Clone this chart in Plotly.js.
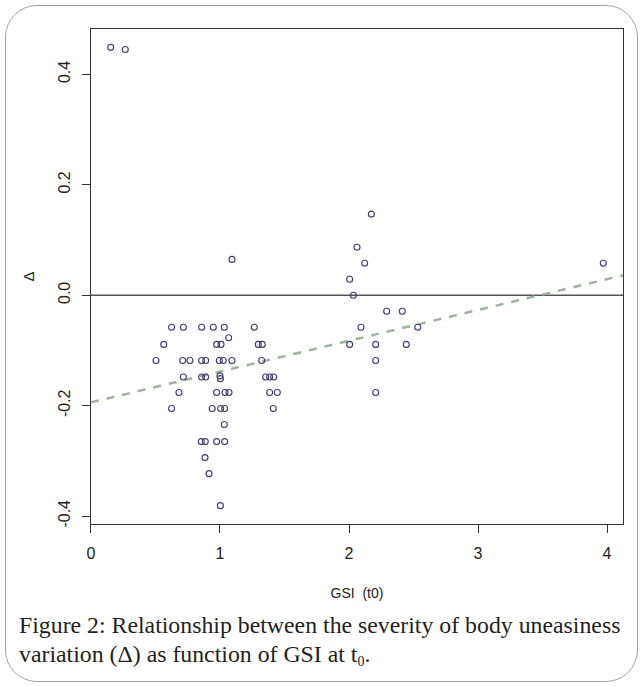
<!DOCTYPE html>
<html>
<head>
<meta charset="utf-8">
<script src="https://cdn.plot.ly/plotly-3.0.1.min.js"></script>
<style>
  html, body { margin: 0; padding: 0; background: #ffffff; }
  #wrap { position: relative; width: 643px; height: 686px; overflow: hidden; }
  #chart { position: absolute; left: 0; top: 0; width: 643px; height: 686px; }
  #frame { position: absolute; left: 5px; top: 5px; width: 633px; height: 677px; box-sizing: border-box;
           border: 1px solid #a3a3a3; border-radius: 32px; pointer-events: none; }
  #caption { position: absolute; left: 19px; top: 611px; width: 620px; white-space: nowrap;
             font-family: "Liberation Serif", "DejaVu Serif", serif; font-size: 23.8px; line-height: 29px; color: #231f20; }
  #caption sub { font-size: 14px; vertical-align: -4px; line-height: 0; color: #231f20; }
</style>
</head>
<body>
<div id="wrap">
  <div id="chart"></div>
  <div id="frame"></div>
  <div id="caption">Figure 2: Relationship between the severity of body uneasiness<br>variation (Δ) as function of GSI at t<sub>0</sub>.</div>
</div>
<script>
// ---- data ----
const gsiT0 = [
  0.153, 0.266,
  0.625, 0.716, 0.858, 0.948, 1.033, 1.266, 2.093, 2.533,
  1.067,
  0.564, 0.974, 1.008, 1.297, 1.328, 2.005, 2.207, 2.444,
  0.504, 0.711, 0.767, 0.858, 0.889, 0.995, 1.025, 1.093, 1.323, 2.207,
  0.716, 0.858, 0.889, 1.000, 1.003, 1.354, 1.385, 1.416,
  0.682, 0.974, 1.039, 1.070, 1.385, 1.444, 2.207,
  0.625, 0.940, 1.005, 1.036, 1.413,
  1.033,
  0.855, 0.886, 0.974, 1.036,
  0.884,
  0.915,
  1.003,
  1.093, 2.173, 2.062, 2.121, 2.005, 2.034, 2.292, 2.413,
  3.971
];
const deltaVar = [
  0.449, 0.445,
  -0.058, -0.058, -0.058, -0.058, -0.058, -0.058, -0.058, -0.058,
  -0.077,
  -0.089, -0.089, -0.089, -0.089, -0.089, -0.089, -0.089, -0.089,
  -0.118, -0.118, -0.118, -0.118, -0.118, -0.118, -0.118, -0.118, -0.118, -0.118,
  -0.148, -0.148, -0.148, -0.146, -0.151, -0.148, -0.148, -0.148,
  -0.176, -0.176, -0.176, -0.176, -0.176, -0.176, -0.176,
  -0.205, -0.205, -0.205, -0.205, -0.205,
  -0.234,
  -0.265, -0.265, -0.265, -0.265,
  -0.294,
  -0.323,
  -0.381,
  0.065, 0.147, 0.087, 0.058, 0.029, 0.000, -0.029, -0.029,
  0.058
];
const fitIntercept = -0.194;
const fitSlope = 0.0558;
const refLineY = 0;
const xTickVals = [0, 1, 2, 3, 4];
const xTickText = ["0", "1", "2", "3", "4"];
const yTickVals = [-0.4, -0.2, 0.0, 0.2, 0.4];
const yTickText = ["-0.4", "-0.2", "0.0", "0.2", "0.4"];
const xTitle = "GSI  (t0)";
const yTitle = "Δ";

// R-style axis ranges (4% padding)
function rRange(a) {
  const lo = Math.min(...a), hi = Math.max(...a), p = 0.04 * (hi - lo);
  return [lo - p, hi + p];
}
const xr = rRange(gsiT0);
const yr = rRange(deltaVar);

const fitX = [xr[0], xr[1]];
const fitY = fitX.map(x => fitIntercept + fitSlope * x);

const tickFont = { family: "Liberation Sans, Arial, sans-serif", size: 16, color: "#222222" };

const traces = [
  {
    x: fitX, y: fitY, type: "scatter", mode: "lines",
    line: { color: "#9db59b", width: 2.5, dash: "8px,8px" },
    hoverinfo: "skip", showlegend: false
  },
  {
    x: gsiT0, y: deltaVar, type: "scatter", mode: "markers",
    marker: { symbol: "circle-open", size: 6, color: "#3d3d6e", line: { width: 1.1, color: "#3d3d6e" } },
    showlegend: false
  }
];

const layout = {
  width: 643, height: 686,
  margin: { l: 91, r: 20, t: 29, b: 162, pad: 0 },
  paper_bgcolor: "rgba(0,0,0,0)", plot_bgcolor: "#ffffff",
  showlegend: false,
  font: tickFont,
  xaxis: {
    range: xr, autorange: false, zeroline: false, showgrid: false,
    showline: true, mirror: true, linecolor: "#333333", linewidth: 1,
    ticks: "outside", ticklen: 8, tickcolor: "#333333", tickwidth: 1,
    tickvals: xTickVals, ticktext: xTickText, tickfont: tickFont,
    ticklabelstandoff: 7,
    title: { text: xTitle, font: { family: "Liberation Sans, Arial, sans-serif", size: 14, color: "#222222" }, standoff: 26 }
  },
  yaxis: {
    range: yr, autorange: false, zeroline: false, showgrid: false,
    showline: true, mirror: true, linecolor: "#333333", linewidth: 1,
    ticks: "outside", ticklen: 8, tickcolor: "#333333", tickwidth: 1,
    tickvals: yTickVals, ticktext: yTickText, tickfont: tickFont, tickangle: -90,
    ticklabelstandoff: 6,
    title: { text: yTitle, font: { family: "Liberation Sans, Arial, sans-serif", size: 15, color: "#222222" }, standoff: 17 }
  },
  shapes: [
    { type: "line", xref: "paper", yref: "y", x0: 0, x1: 1, y0: refLineY, y1: refLineY,
      line: { color: "#555555", width: 1.5 }, layer: "below" }
  ]
};

Plotly.newPlot("chart", traces, layout, { displayModeBar: false, staticPlot: true });
</script>
</body>
</html>
